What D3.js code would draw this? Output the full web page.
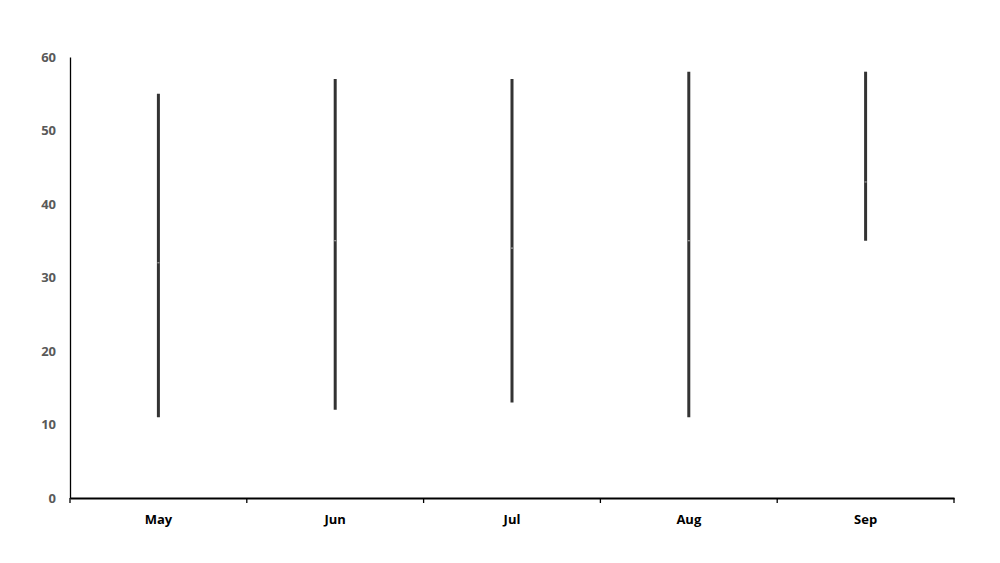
<!DOCTYPE html>
<html>
<head>
<meta charset="utf-8">
<script src="https://cdn.jsdelivr.net/npm/d3@7"></script>
<style>
  html, body { margin: 0; padding: 0; background: #fff; }
  svg { display: block; }
</style>
</head>
<body>
<svg id="chart" width="1000" height="563"></svg>
<script>
const months = ["May", "Jun", "Jul", "Aug", "Sep"];
const highs  = [55, 57, 57, 58, 58];
const lows   = [11, 12, 13, 11, 35];
const closes = [32, 35, 34, 35, 43];
const yTicks = [0, 10, 20, 30, 40, 50, 60];

const svg = d3.select("#chart");
const plotLeft = 70, plotRight = 954, plotTop = 57, plotBottom = 498;

const x = d3.scaleBand().domain(months).range([plotLeft, plotRight]).paddingInner(0).paddingOuter(0);
const y = d3.scaleLinear().domain([0, 60]).range([plotBottom, plotTop]);

// y axis
const yAxis = svg.append("g").attr("transform", `translate(${plotLeft},0)`)
  .call(d3.axisLeft(y).tickValues(yTicks).tickSize(0).tickPadding(14));
yAxis.select(".domain").attr("stroke", "#000").attr("stroke-width", 1.3);
yAxis.selectAll("text")
  .attr("font-family", "'Open Sans', sans-serif")
  .attr("font-weight", "bold")
  .attr("font-size", 13)
  .attr("fill", "#595959");

// x axis
const xAxis = svg.append("g").attr("transform", `translate(0,${plotBottom})`)
  .call(d3.axisBottom(x).tickSize(0).tickPadding(17));
xAxis.select(".domain").attr("stroke", "#000").attr("stroke-width", 2);
xAxis.selectAll("text")
  .attr("font-family", "'Open Sans', sans-serif")
  .attr("font-weight", "bold")
  .attr("font-size", 13)
  .attr("fill", "#000");
// category boundary ticks
const bounds = months.map(m => x(m)).concat([x(months[months.length - 1]) + x.bandwidth()]);
xAxis.selectAll("line.bound").data(bounds).enter().append("line")
  .attr("class", "bound")
  .attr("x1", d => d).attr("x2", d => d)
  .attr("y1", 0).attr("y2", 5)
  .attr("stroke", "#000").attr("stroke-width", 1.3);

// high-low lines
const g = svg.append("g");
g.selectAll("line.hl").data(months).enter().append("line")
  .attr("class", "hl")
  .attr("x1", d => x(d) + x.bandwidth() / 2)
  .attr("x2", d => x(d) + x.bandwidth() / 2)
  .attr("y1", (d, i) => y(highs[i]))
  .attr("y2", (d, i) => y(lows[i]))
  .attr("stroke", "#333")
  .attr("stroke-width", 3);

// close markers (tiny light ticks)
g.selectAll("rect.close").data(months).enter().append("rect")
  .attr("class", "close")
  .attr("x", d => x(d) + x.bandwidth() / 2 - 1)
  .attr("y", (d, i) => y(closes[i]) - 0.5)
  .attr("width", 2)
  .attr("height", 1)
  .attr("fill", "#bbb");
</script>
</body>
</html>
